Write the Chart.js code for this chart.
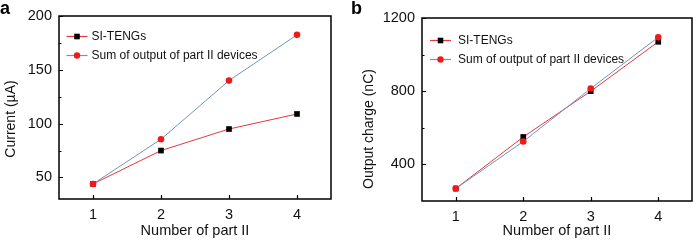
<!DOCTYPE html>
<html>
<head>
<meta charset="utf-8">
<script src="https://cdn.jsdelivr.net/npm/chart.js@4.4.1/dist/chart.umd.min.js"></script>
<style>
    body { margin: 0; background: #fff; width: 696px; height: 241px; position: relative; overflow: hidden; }
    .panel { position: absolute; top: 0; }
    #wrapA { left: 0; }
    #wrapB { left: 350px; }
</style>
</head>
<body>
<div class="panel" id="wrapA"><canvas id="chartA" width="348" height="241"></canvas></div>
<div class="panel" id="wrapB"><canvas id="chartB" width="346" height="241"></canvas></div>
<script>
// données
const parts = [1, 2, 3, 4];
const seriesNames = ['SI-TENGs', 'Sum of output of part II devices'];

const currentSI = [44, 75, 95, 109];
const currentSum = [44, 85.5, 140, 182.5];
const currentTicks = [50, 100, 150, 200];
const currentMinor = [75, 125, 175];

const chargeSI = [268, 550, 800, 1070];
const chargeSum = [268, 525, 815, 1095];
const chargeTicks = [400, 800, 1200];
const chargeMinor = [600, 1000];

const FONT = '"Liberation Sans", Arial, sans-serif';
const RED_LINE = '#e4383c';
const BLUE_LINE = '#7394bb';
const RED_DOT = '#f01a1a';

function toPoints(values) {
    return parts.map((p, i) => ({ x: p, y: values[i] }));
}

// cadre, graduations internes, légende, titres
const framePlugin = {
    id: 'frame',
    afterDraw(chart, args, opts) {
        const ctx = chart.ctx;
        const a = chart.chartArea;
        const xs = chart.scales.x;
        const ys = chart.scales.y;
        ctx.save();
        ctx.strokeStyle = '#000';
        ctx.lineWidth = 1.5;
        ctx.strokeRect(a.left, a.top, a.right - a.left, a.bottom - a.top);

        ctx.lineWidth = 1.2;
        ctx.beginPath();
        opts.major.forEach(v => {
            const y = Math.round(ys.getPixelForValue(v)) + 0.5;
            ctx.moveTo(a.left, y); ctx.lineTo(a.left + 4, y);
        });
        opts.minor.forEach(v => {
            const y = Math.round(ys.getPixelForValue(v)) + 0.5;
            ctx.moveTo(a.left, y); ctx.lineTo(a.left + 2.5, y);
        });
        parts.forEach(v => {
            const x = Math.round(xs.getPixelForValue(v)) + 0.5;
            ctx.moveTo(x, a.bottom); ctx.lineTo(x, a.bottom - 4);
        });
        ctx.stroke();

        // légende
        ctx.font = '12px ' + FONT;
        ctx.textBaseline = 'middle';
        ctx.textAlign = 'left';
        chart.data.datasets.forEach((ds, i) => {
            const y = Math.round(a.top + opts.legendTop + i * opts.legendGap) + 0.5;
            const x0 = a.left + opts.legendLeft;
            ctx.strokeStyle = ds.borderColor;
            ctx.lineWidth = 1.2;
            ctx.beginPath();
            ctx.moveTo(x0, y);
            ctx.lineTo(x0 + 21, y);
            ctx.stroke();
            ctx.fillStyle = ds.pointBackgroundColor;
            if (ds.pointStyle === 'rect') {
                ctx.fillRect(x0 + 10.5 - 2.8, y - 2.8, 5.6, 5.6);
            } else {
                ctx.beginPath();
                ctx.arc(x0 + 10.5, y, 3.2, 0, Math.PI * 2);
                ctx.fill();
            }
            ctx.fillStyle = '#111';
            ctx.fillText(ds.label, x0 + opts.legendText, y);
        });

        // titre de l'axe Y
        ctx.save();
        ctx.translate(opts.yTitleX, opts.yTitleY);
        ctx.rotate(-Math.PI / 2);
        ctx.textAlign = 'center';
        ctx.textBaseline = 'alphabetic';
        ctx.font = '14px "Liberation Sans Narrow", ' + FONT;
        ctx.fillStyle = '#111';
        ctx.fillText(opts.yTitle, 0, 0);
        ctx.restore();

        // lettre du panneau
        ctx.font = 'bold 18px ' + FONT;
        ctx.textBaseline = 'alphabetic';
        ctx.fillStyle = '#000';
        ctx.fillText(opts.letter, opts.letterX, 14);
        ctx.restore();
    }
};

function makeChart(canvasId, si, sum, yMin, yMax, ticks, minor, cfg) {
    const ctx = document.getElementById(canvasId).getContext('2d');
    return new Chart(ctx, {
        type: 'line',
        data: {
            datasets: [{
                label: seriesNames[0],
                data: toPoints(si),
                borderColor: RED_LINE,
                borderWidth: 1,
                pointStyle: 'rect',
                pointRadius: 4,
                pointBackgroundColor: '#000',
                pointBorderColor: '#000',
                pointBorderWidth: 0,
                order: 1
            }, {
                label: seriesNames[1],
                data: toPoints(sum),
                borderColor: BLUE_LINE,
                borderWidth: 1,
                pointStyle: 'circle',
                pointRadius: 3.3,
                pointBackgroundColor: RED_DOT,
                pointBorderColor: RED_DOT,
                pointBorderWidth: 0,
                order: 0
            }]
        },
        options: {
            responsive: false,
            animation: false,
            devicePixelRatio: 1,
            layout: { padding: { top: cfg.top, right: cfg.right, left: 0, bottom: 0 } },
            plugins: {
                legend: { display: false },
                tooltip: { enabled: false },
                frame: {
                    major: ticks, minor: minor,
                    legendTop: cfg.legendTop, legendGap: cfg.legendGap,
                    legendLeft: cfg.legendLeft, legendText: cfg.legendText,
                    yTitle: cfg.yTitle, yTitleX: cfg.yTitleX, yTitleY: cfg.yTitleY,
                    letter: cfg.letter, letterX: cfg.letterX
                }
            },
            scales: {
                x: {
                    type: 'linear',
                    min: 0.5,
                    max: 4.5,
                    afterBuildTicks: scale => { scale.ticks = parts.map(v => ({ value: v })); },
                    afterFit: scale => { scale.height = cfg.xHeight; },
                    grid: { display: false, drawTicks: false },
                    border: { display: false },
                    ticks: { color: '#111', font: { family: FONT, size: 14.5 }, padding: 7, maxRotation: 0 },
                    title: {
                        display: true,
                        text: 'Number of part II',
                        color: '#111',
                        font: { family: FONT, size: 14.5 },
                        padding: { top: 0, bottom: 1 }
                    }
                },
                y: {
                    min: yMin,
                    max: yMax,
                    afterBuildTicks: scale => { scale.ticks = ticks.map(v => ({ value: v })); },
                    afterFit: scale => { scale.width = cfg.yWidth; },
                    grid: { display: false, drawTicks: false },
                    border: { display: false },
                    ticks: {
                        color: '#111',
                        font: { family: FONT, size: 14.5 },
                        padding: 7,
                        callback: value => String(value)
                    }
                }
            }
        },
        plugins: [framePlugin]
    });
}

document.addEventListener('DOMContentLoaded', () => {
    makeChart('chartA', currentSI, currentSum, 30, 200, currentTicks, currentMinor, {
        top: 16, right: 17, yWidth: 59, xHeight: 42,
        legendTop: 20, legendGap: 19, legendLeft: 7.5, legendText: 25,
        yTitle: 'Current (\u00b5A)', yTitleX: 15, yTitleY: 119,
        letter: 'a', letterX: 0
    });
    makeChart('chartB', chargeSI, chargeSum, 200, 1200, chargeTicks, chargeMinor, {
        top: 18, right: 3, yWidth: 72, xHeight: 40,
        legendTop: 22, legendGap: 18.5, legendLeft: 8, legendText: 28,
        yTitle: 'Output charge (nC)', yTitleX: 23, yTitleY: 129,
        letter: 'b', letterX: 1
    });
});
</script>
</body>
</html>
